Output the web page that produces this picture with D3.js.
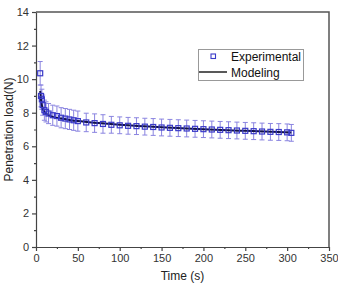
<!DOCTYPE html>
<html>
<head>
<meta charset="utf-8">
<script src="https://cdn.jsdelivr.net/npm/d3@7"></script>
<style>
  body { margin: 0; background: #fff; }
  text { font-family: "Liberation Sans", Arial, sans-serif; }
</style>
</head>
<body>
<div id="grafico"></div>
<script>
// experimental points (time, load, error)
const tempos = [5, 6, 7, 8, 10, 12, 15, 20, 25, 30, 35, 40, 45, 50,
  60, 70, 80, 90, 100, 110, 120, 130, 140, 150, 160, 170, 180, 190, 200,
  210, 220, 230, 240, 250, 260, 270, 280, 290, 300, 305];
const cargas = [10.35, 9.0, 8.8, 8.45, 8.15, 8.05, 7.95, 7.85, 7.8, 7.7, 7.65, 7.6, 7.55, 7.5,
  7.42, 7.38, 7.33, 7.28, 7.25, 7.22, 7.2, 7.17, 7.15, 7.12, 7.1, 7.08, 7.06, 7.04, 7.02,
  7.0, 6.98, 6.96, 6.94, 6.92, 6.9, 6.88, 6.86, 6.85, 6.83, 6.8];
const erros = [0.7, 0.65, 0.6, 0.6, 0.6, 0.6, 0.6, 0.6, 0.6, 0.6, 0.6, 0.6, 0.6, 0.6,
  0.55, 0.55, 0.55, 0.5, 0.5, 0.5, 0.5, 0.5, 0.5, 0.5, 0.5, 0.5, 0.5, 0.5, 0.5,
  0.5, 0.5, 0.5, 0.5, 0.5, 0.5, 0.5, 0.5, 0.5, 0.5, 0.5];

// modeling curve
const temposModelo = [5, 5.5, 6, 7, 8, 10, 12, 15, 20, 30, 40, 50, 75, 100, 150, 200, 250, 305];
const cargasModelo = [9.3, 9.0, 8.75, 8.45, 8.25, 8.05, 7.95, 7.85, 7.75, 7.65, 7.57, 7.5, 7.38, 7.28, 7.13, 7.02, 6.92, 6.82];

const ticksX = [0, 50, 100, 150, 200, 250, 300, 350];
const ticksY = [0, 2, 4, 6, 8, 10, 12, 14];
const legenda = ["Experimental", "Modeling"];

const largura = 338, altura = 284;
const esq = 36, dir = 329, topo = 12, base = 247;

const svg = d3.select("#grafico").append("svg")
  .attr("width", largura).attr("height", altura);

const x = d3.scaleLinear().domain([0, 350]).range([esq, dir]);
const y = d3.scaleLinear().domain([0, 14]).range([base, topo]);

//eixos com ticks menores
svg.append("g").attr("transform", `translate(0,${base})`)
  .call(d3.axisBottom(x).tickValues(ticksX).tickSize(4).tickPadding(3).tickSizeOuter(0));
svg.append("g").attr("transform", `translate(0,${base})`)
  .call(d3.axisBottom(x).tickValues(d3.range(25, 350, 50)).tickSize(2).tickFormat("").tickSizeOuter(0))
  .select(".domain").remove();
svg.append("g").attr("transform", `translate(${esq},0)`)
  .call(d3.axisLeft(y).tickValues(ticksY).tickSize(4).tickPadding(3).tickSizeOuter(0));
svg.append("g").attr("transform", `translate(${esq},0)`)
  .call(d3.axisLeft(y).tickValues(d3.range(1, 14, 2)).tickSize(2).tickFormat("").tickSizeOuter(0))
  .select(".domain").remove();

svg.selectAll(".tick text").style("font-size", "11px").attr("fill", "#333");
svg.selectAll(".domain, .tick line").attr("stroke", "#444").attr("stroke-width", 1.2);

//moldura
svg.append("path")
  .attr("d", `M${esq},${topo}H${dir}V${base}`)
  .attr("fill", "none").attr("stroke", "#555").attr("stroke-width", 1.5);

//titulos
svg.append("text").attr("x", (esq + dir) / 2).attr("y", 280)
  .attr("text-anchor", "middle").style("font-size", "12px").attr("fill", "#222")
  .text("Time (s)");
svg.append("text").attr("transform", `translate(13,${(topo + base) / 2}) rotate(-90)`)
  .attr("text-anchor", "middle").style("font-size", "12px").attr("fill", "#222")
  .text("Penetration load(N)");

const pontos = tempos.map((t, i) => ({ t, v: cargas[i], e: erros[i] }));

//barras de erro
const barras = svg.append("g").attr("stroke", "#8a84e0").attr("stroke-width", 1).attr("fill", "none");
barras.selectAll("path").data(pontos).enter().append("path")
  .attr("d", d => {
    const cx = x(d.t), y1 = y(d.v + d.e), y2 = y(d.v - d.e);
    return `M${cx},${y1}V${y2}M${cx - 2.5},${y1}h5M${cx - 2.5},${y2}h5`;
  });

//curva do modelo
const linha = d3.line().x((d, i) => x(temposModelo[i])).y(d => y(d)).curve(d3.curveMonotoneX);
svg.append("path").datum(cargasModelo)
  .attr("d", linha).attr("fill", "none").attr("stroke", "#14144a").attr("stroke-width", 2);

//marcadores
svg.selectAll(".marc").data(pontos).enter().append("rect")
  .attr("class", "marc")
  .attr("x", d => x(d.t) - 2.5).attr("y", d => y(d.v) - 2.5)
  .attr("width", 5).attr("height", 5)
  .attr("fill", "none").attr("stroke", "#3a3ac8").attr("stroke-width", 1.2);

//legenda
const leg = svg.append("g");
leg.append("rect").attr("x", 198.5).attr("y", 49.5).attr("width", 105).attr("height", 31)
  .attr("fill", "#fff").attr("stroke", "#999").attr("stroke-width", 1);
leg.append("rect").attr("x", 211).attr("y", 54).attr("width", 4.5).attr("height", 4.5)
  .attr("fill", "none").attr("stroke", "#3a3ac8").attr("stroke-width", 1.1);
leg.append("line").attr("x1", 199).attr("x2", 227).attr("y1", 72).attr("y2", 72)
  .attr("stroke", "#222").attr("stroke-width", 1.5);
leg.selectAll(".lt").data(legenda).enter().append("text")
  .attr("x", 231).attr("y", (d, i) => 60.5 + i * 16)
  .style("font-size", "12px").attr("fill", "#111").text(d => d);
</script>
</body>
</html>
